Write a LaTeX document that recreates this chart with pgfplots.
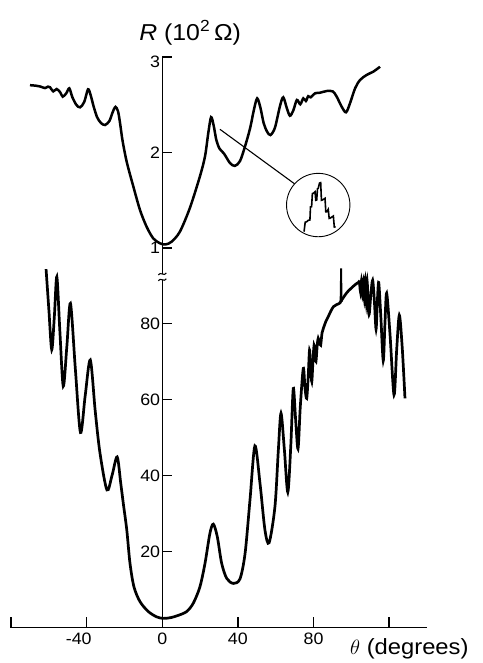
\documentclass[border=0pt]{standalone}
\usepackage{pgfplots}
\pgfplotsset{compat=1.18}
\usepackage{fontspec}
\setmainfont[FakeStretch=1.08]{Liberation Sans}
\begin{document}
\begin{tikzpicture}
\path[use as bounding box] (0pt,0pt) rectangle (482pt,663pt);
% ---------- lower panel ----------
\begin{axis}[
  x=1.89pt, y=3.8pt,
  xmin=-80, xmax=140, ymin=0, ymax=91.5,
  anchor=south west, at={(11.1pt,35.5pt)},
  enlargelimits=false, clip=false,
  axis x line=bottom, axis y line=center,
  axis line style={line width=1.3pt,-},
  hide obscured x ticks=false, hide obscured y ticks=false,
  xtick={-80,-40,0,40,80,120}, xticklabels={,\kern-16pt-40,0,40,80,},
  ytick={20,40,60,80}, yticklabels={20,40,60,80},
  tick align=center, major tick length=10pt,
  tick style={line width=1.3pt, black},
  xtick style={yshift=5pt}, ytick style={xshift=5pt},
  tick label style={font=\fontsize{16.5}{19}\selectfont},
  xticklabel style={anchor=north, inner sep=0pt},
  yticklabel style={anchor=east, inner sep=0pt, xshift=3pt},
  xlabel={$\theta$ (degrees)},
  every axis x label/.style={at={(axis description cs:0.815,-0.0765)}, anchor=base west, inner sep=0pt, font=\fontsize{22}{26}\selectfont},
]
\addplot[black, line width=2.7pt, smooth, tension=0.5] coordinates {
(-61.5,94.3) (-60.0,83.5) (-58.5,73.1) (-57.1,82) (-55.8,92.3) (-54.2,78) (-52.4,63.5) (-50.5,74) (-48.6,85.3) (-46.0,68) (-43.3,51.3) (-40.8,61) (-38.1,70.4) (-35.5,57) (-33.0,46) (-29.3,36.2) (-26.6,40) (-23.9,44.9) (-22.0,38) (-20.6,32.5) (-18.8,25.7) (-17.1,16.9) (-15.0,10.7) (-11.8,6.8) (-7.4,4.2) (-3.0,2.8) (0.5,2.4) (4.5,2.6) (8.5,3.2) (12.9,4.2) (16.4,6.4) (19.9,10.7) (22.6,16.9) (25.2,24.8) (27.0,27.2) (29.1,23.9) (31.4,16.9) (34.1,12.9) (37.6,11.6) (41.1,12.8) (43.8,19.5) (46.4,33.6) (49.0,47.8) (51.7,37.9) (54.3,25.7) (56.5,22.3) (59.6,31.8) (61.4,46.7) (62.8,56.4) (64.6,46.7) (66.4,35.6) (68.0,48) (69.3,62.9) (70.5,55) (71.8,47.0) (73.0,58) (74.6,68.2) (75.5,63) (76.4,60.3) (77.2,66) (77.9,73.0) (78.5,68) (79.1,64.7) (79.7,70) (80.3,74.3) (80.8,72) (81.3,70.0) (82.0,74.5) (82.5,76.1) (83.2,75) (83.8,74.3) (84.5,77.5) (85.2,78.7) (86.5,80.5) (87.8,81.8) (89.2,83.3) (90.5,84.4) (92.0,84.9) (93.7,85.3) (96.7,87.5) (98.5,88.6) (100.2,89.4) (102.0,90.2) (103.7,90.8) (104.3,90.9) (104.8,88.5) (105.3,91.1) (105.8,87.5) (106.4,91.3) (106.9,86.5) (107.4,91.2) (107.9,85.5) (108.4,91.0) (109.0,84.0) (109.5,82.5) (110.4,88) (111.3,91.4) (112.2,86) (113.1,78.5) (113.8,86) (114.5,90.8) (115.6,82) (116.9,70.2) (117.8,80) (118.7,88.0) (120.5,77) (122.6,61.2) (124.0,73) (125.4,82.2) (126.9,74) (128.4,60.3)
};
\addplot[black, line width=1.8pt, sharp plot] coordinates {(94.3,85.2) (94.6,94.5) (94.9,85.7)};
\draw[line width=1.1pt] ([xshift=-4pt,yshift=-1pt]axis cs:0,91.5) .. controls +(2pt,4pt) and +(-2pt,-4pt) .. ([xshift=4pt,yshift=1pt]axis cs:0,91.5);
\end{axis}
% ---------- upper panel ----------
\begin{axis}[
  x=1.89pt, y=95.5pt,
  xmin=-80, xmax=140, ymin=0.728, ymax=3,
  anchor=south west, at={(11.1pt,389pt)},
  enlargelimits=false, clip=false,
  axis x line=none, axis y line=center,
  axis line style={line width=1.3pt,-},
  hide obscured y ticks=false,
  ytick={1,2}, yticklabels={1,2},
  extra y ticks={3}, extra y tick labels={3},
  extra y tick style={yticklabel style={yshift=-5pt}},
  tick align=center, major tick length=10pt,
  tick style={line width=1.3pt, black},
  ytick style={xshift=5pt},
  tick label style={font=\fontsize{16.5}{19}\selectfont},
  yticklabel style={anchor=east, inner sep=0pt, xshift=3pt},
  ylabel={\textit{R} (10\textsuperscript{2}\,Ω)},
  every axis y label/.style={at={(axis description cs:0.4305,1.0753)}, anchor=base, font=\fontsize{23}{27}\selectfont},
]
\addplot[black, line width=2.5pt, smooth, tension=0.5] coordinates {
(-70.0,2.705) (-67,2.70) (-64.7,2.692) (-62.1,2.675) (-60.5,2.69) (-59.4,2.683) (-57.7,2.64) (-55.9,2.665) (-54,2.63) (-52.7,2.585) (-50.8,2.62) (-49.2,2.672) (-47.6,2.58) (-45.5,2.50) (-43.5,2.473) (-41.3,2.53) (-39.3,2.662) (-37.9,2.60) (-36.3,2.48) (-34.5,2.37) (-32.5,2.31) (-30.3,2.288) (-28,2.33) (-26.3,2.42) (-24.8,2.478) (-23.4,2.43) (-22.3,2.30) (-21,2.12) (-18.8,1.90) (-15.3,1.642) (-11.8,1.398) (-8.3,1.223) (-4.8,1.101) (-1.2,1.049) (1.8,1.038) (4.9,1.066) (9.3,1.171) (14.6,1.42) (19.9,1.75) (22.6,1.96) (24.3,2.2) (25.8,2.37) (27.2,2.28) (28.6,2.13) (30.3,2.04) (32.6,1.99) (35.8,1.89) (38.4,1.86) (41.1,1.91) (43.7,2.06) (46.4,2.25) (48.5,2.45) (50.2,2.567) (51.9,2.47) (53.6,2.31) (55.4,2.22) (57.2,2.183) (59.6,2.26) (62.3,2.49) (64.0,2.578) (65.8,2.47) (67.5,2.385) (69.3,2.44) (71.2,2.55) (73.0,2.505) (74.6,2.567) (76.0,2.54) (77.2,2.59) (78.5,2.578) (80.8,2.62) (83.4,2.626) (87.0,2.644) (90.2,2.64) (92.3,2.584) (94.9,2.48) (97.2,2.421) (99.3,2.515) (102.0,2.672) (104.6,2.759) (108.1,2.812) (111.6,2.846) (113.4,2.871) (115.2,2.898)
};
% inset detail
\addplot[black, line width=1.6pt, sharp plot] coordinates {
(75.0,1.171) (75.6,1.27) (76.4,1.275) (77.2,1.29) (78.1,1.293) (78.4,1.43) (79.0,1.433) (79.4,1.57) (79.9,1.573) (80.8,1.590) (81.2,1.50) (81.7,1.503) (82.1,1.62) (82.5,1.625) (83.2,1.68) (83.8,1.684) (84.2,1.50) (84.7,1.503) (86.1,1.520) (86.5,1.38) (87.0,1.380) (87.8,1.405) (88.3,1.31) (88.7,1.311) (90.5,1.335) (91.0,1.22) (91.7,1.223)
};
\draw[line width=0.9pt] (axis cs:82.5,1.45) circle[radius=31.7pt];
\draw[line width=1.1pt] (axis cs:30.5,2.243) -- (axis cs:70.0,1.672);
\draw[line width=1.1pt] ([xshift=-4pt,yshift=-1pt]axis cs:0,0.728) .. controls +(2pt,4pt) and +(-2pt,-4pt) .. ([xshift=4pt,yshift=1pt]axis cs:0,0.728);
\end{axis}
\end{tikzpicture}
\end{document}
